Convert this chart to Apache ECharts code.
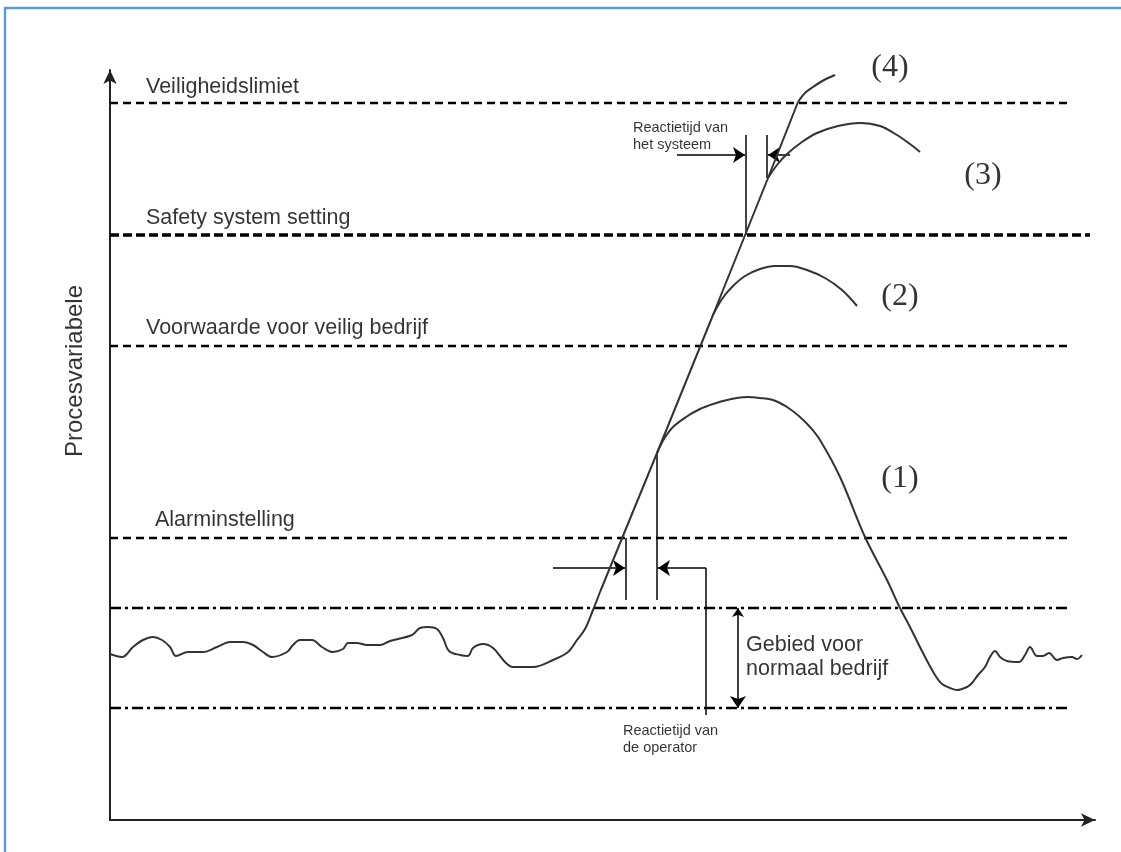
<!DOCTYPE html>
<html>
<head>
<meta charset="utf-8">
<script src="https://cdn.jsdelivr.net/npm/echarts@6/dist/echarts.min.js"></script>
<style>
  html, body { margin: 0; padding: 0; background: #fff; }
  #chart { width: 1121px; height: 852px; }
</style>
</head>
<body>
<div id="chart"></div>
<script>
// Procesvariabele over time: normal operation, alarm, safety system and limits.

// Threshold levels (process-variable units)
const levelNames = ['Veiligheidslimiet', 'Safety system setting', 'Voorwaarde voor veilig bedrijf', 'Alarminstelling'];
const levelValues = [717, 585, 474, 282];
const levelEnds = [960, 980, 960, 960];
const normalBand = [212, 112];          // upper / lower bound of normal operation
const normalBandEnd = 960;

// Measured course before the excursion (time, value)
const baseline = [
  [0,166],[12,163],[23,173],[33,180],[43,183],[52,180],[60,173],[66,164],[78,168],[93,168],
  [107,173],[120,178],[133,178],[143,175],[153,168],[162,163],[177,168],[183,175],[190,180],[202,180],
  [212,173],[223,168],[233,171],[238,177],[247,177],[257,175],[270,175],[280,179],[302,185],[310,192],
  [318,193],[327,191],[333,182],[339,169],[350,165],[358,164],[363,172],[373,176],[383,172],[395,158],
  [403,153],[423,153],[443,160],[458,168],[467,180],[475,191],[483,210],[490,228]
];
// Uncontrolled rise
const ramp = [[490,228],[547,367],[603,505],[658,642],[688,718]];
// (1) operator intervenes
const scenario1 = [
  [547,367],[554,381],[563,393],[576,403],[590,411],[603,416],[617,420],[637,423],[650,422],[663,420],
  [677,413],[690,403],[700,393],[710,380],[730,343],[755,283],[777,240],[790,212],[800,193],[813,167],
  [825,145],[832,136],[840,132],[847,130],[857,133],[862,137],[868,145],[875,153],[880,163],[885,169],
  [890,163],[897,159],[909,158],[915,165],[920,173],[927,164],[933,164],[939,167],[947,160],[953,162],
  [962,163],[967,161],[972,165]
];
// (2) recovery below the safety system setting
const scenario2 = [[603,505],[612,521],[622,533],[635,544],[650,551],[665,554],[680,554],[697,550],[715,542],[732,530],[747,514]];
// (3) safety system trips
const scenario3 = [[658,642],[667,655],[677,666],[692,678],[707,687],[728,694],[750,697],[770,694],[787,685],[800,676],[810,668]];
// (4) safety limit exceeded
const scenario4 = [[688,718],[695,727],[703,733],[714,740],[725,745]];

// Reaction-time markers
const systemMarks = [[[636,585],[636,685]], [[657,642],[657,685]]];
const operatorMarks = [[[516,282],[516,220]], [[547,367],[547,220]]];
const arrowsIn = [
  [[567,665],[635,665]], [[680,665],[658,665]],
  [[443,252],[515,252]], [[596,252],[548,252]]
];
const leaderLines = [[[596,105],[596,252]]];
const bandArrow = [[628,212],[628,112]];

// Text annotations and their anchors
const levelLabelText = levelNames;
const levelLabelAnchor = [[36,733],[36,602],[36,492],[45,300]];
const noteText = ['Reactietijd van\nhet systeem', 'Reactietijd van\nde operator', 'Gebied voor\nnormaal bedrijf'];
const noteAnchor = [[523,684],[513,81],[636,163]];
const caseText = ['(1)', '(2)', '(3)', '(4)'];
const caseAnchor = [[790,341],[790,523],[873,644],[780,752]];
const axisTitle = 'Procesvariabele';
const axisTitleAnchor = [-35, 449];

const curveColor = '#333';

const series = [];

levelValues.forEach((v, i) => {
  const safety = i === 1;
  series.push({
    type: 'line', name: levelNames[i], symbol: 'none', silent: true,
    data: [[0, v], [levelEnds[i], v]],
    lineStyle: { color: '#000', width: safety ? 3.4 : 2.4, type: safety ? [9, 4] : [8, 5] }
  });
});
normalBand.forEach(v => {
  series.push({
    type: 'line', symbol: 'none', silent: true,
    data: [[0, v], [normalBandEnd, v]],
    lineStyle: { color: '#000', width: 2.4, type: [11, 4, 3, 4] }
  });
});

[baseline, scenario1, scenario2, scenario3, scenario4].forEach(d => {
  series.push({
    type: 'line', symbol: 'none', smooth: 0.35, data: d,
    lineStyle: { color: curveColor, width: 2 }
  });
});
series.push({
  type: 'line', symbol: 'none', smooth: false, data: ramp,
  lineStyle: { color: curveColor, width: 2 }
});

series.push({
  type: 'lines', coordinateSystem: 'cartesian2d', symbol: 'none',
  data: systemMarks.concat(operatorMarks, leaderLines).map(c => ({ coords: c })),
  lineStyle: { color: '#222', width: 1.7, opacity: 1 }
});
series.push({
  type: 'lines', coordinateSystem: 'cartesian2d',
  symbol: ['none', 'arrow'], symbolSize: [9, 12],
  data: arrowsIn.map(c => ({ coords: c })),
  lineStyle: { color: '#000', width: 1.5, opacity: 1 }
});
series.push({
  type: 'lines', coordinateSystem: 'cartesian2d',
  symbol: ['arrow', 'arrow'], symbolSize: [9, 12],
  data: [{ coords: bandArrow }],
  lineStyle: { color: '#000', width: 1.5, opacity: 1 }
});

function textPoints(texts, anchors, labelStyle) {
  return texts.map((t, i) => ({
    value: anchors[i],
    label: Object.assign({ show: true, formatter: t, position: 'inside' }, labelStyle)
  }));
}

series.push({
  type: 'scatter', symbolSize: 1, clip: false, silent: true,
  itemStyle: { color: 'rgba(0,0,0,0)' },
  data: [].concat(
    textPoints(levelLabelText, levelLabelAnchor, {
      align: 'left', verticalAlign: 'middle', color: '#000',
      fontFamily: 'Liberation Sans', fontSize: 21.5
    }),
    textPoints(noteText.slice(0, 2), noteAnchor.slice(0, 2), {
      align: 'left', verticalAlign: 'middle', color: '#000',
      fontFamily: 'Liberation Sans', fontSize: 14.5, lineHeight: 17
    }),
    textPoints(noteText.slice(2), noteAnchor.slice(2), {
      align: 'left', verticalAlign: 'middle', color: '#000',
      fontFamily: 'Liberation Sans', fontSize: 21.5, lineHeight: 24
    }),
    textPoints(caseText, caseAnchor, {
      align: 'center', verticalAlign: 'middle', color: '#000',
      fontFamily: 'Liberation Serif', fontSize: 32
    }),
    textPoints([axisTitle], [axisTitleAnchor], {
      align: 'center', verticalAlign: 'middle', color: '#000',
      fontFamily: 'Liberation Sans', fontSize: 24, rotate: 90
    })
  )
});

const chart = echarts.init(document.getElementById('chart'), null, { renderer: 'canvas' });
chart.setOption({
  animation: false,
  backgroundColor: '#fff',
  grid: { left: 110, top: 70, width: 985, height: 750, containLabel: false },
  xAxis: {
    type: 'value', min: 0, max: 985,
    axisLine: { show: true, onZero: false, symbol: ['none', 'arrow'], symbolSize: [10, 14],
                lineStyle: { color: '#222', width: 2 } },
    axisTick: { show: false }, axisLabel: { show: false }, splitLine: { show: false }
  },
  yAxis: {
    type: 'value', min: 0, max: 750,
    axisLine: { show: true, onZero: false, symbol: ['none', 'arrow'], symbolSize: [10, 14],
                lineStyle: { color: '#222', width: 2 } },
    axisTick: { show: false }, axisLabel: { show: false }, splitLine: { show: false }
  },
  graphic: [{
    type: 'rect', silent: true, z: 100,
    shape: { x: 5, y: 8, width: 1300, height: 1000 },
    style: { fill: 'none', stroke: '#5b9bd5', lineWidth: 2.4 }
  }],
  series: series
});
</script>
</body>
</html>
